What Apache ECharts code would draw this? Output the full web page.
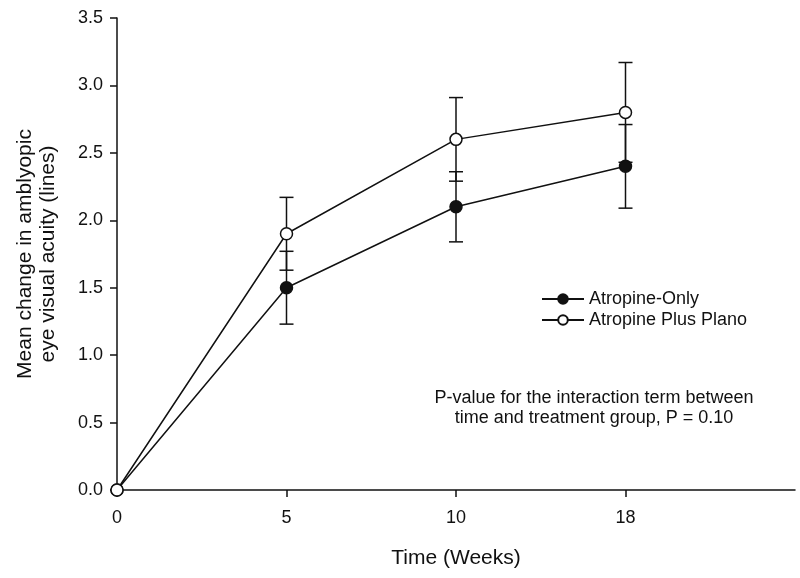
<!DOCTYPE html>
<html>
<head>
<meta charset="utf-8">
<script src="https://cdn.jsdelivr.net/npm/echarts@6/dist/echarts.min.js"></script>
<style>
html,body{margin:0;padding:0;background:#fff;}
#chart{width:800px;height:578px;}
</style>
</head>
<body>
<div id="chart"></div>
<script>
var timeLabels = ['0', '5', '10', '18'];
var atropineOnly = [0, 1.5, 2.1, 2.4];
var atropineOnlyErr = [0, 0.27, 0.26, 0.31];
var plusPlano = [0, 1.9, 2.6, 2.8];
var plusPlanoErr = [0, 0.27, 0.31, 0.37];

var FONT = 'Liberation Sans, Arial, sans-serif';
var INK = '#111';

function pts(vals) { return vals.map(function (v, i) { return [i, v]; }); }
function errData(vals, errs) {
  var out = [];
  vals.forEach(function (v, i) { if (errs[i] > 0) out.push([i, v - errs[i], v + errs[i]]); });
  return out;
}
function errRender(params, api) {
  var x = api.value(0);
  var lo = api.coord([x, api.value(1)]);
  var hi = api.coord([x, api.value(2)]);
  var hw = 7;
  var st = { stroke: INK, lineWidth: 1.5 };
  return {
    type: 'group',
    children: [
      { type: 'line', shape: { x1: lo[0], y1: lo[1], x2: hi[0], y2: hi[1] }, style: st },
      { type: 'line', shape: { x1: lo[0] - hw, y1: lo[1], x2: lo[0] + hw, y2: lo[1] }, style: st },
      { type: 'line', shape: { x1: hi[0] - hw, y1: hi[1], x2: hi[0] + hw, y2: hi[1] }, style: st }
    ]
  };
}

var chart = echarts.init(document.getElementById('chart'), null, { renderer: 'canvas' });
chart.setOption({
  animation: false,
  backgroundColor: '#fff',
  textStyle: { fontFamily: FONT, color: INK },
  grid: { left: 117, right: 5, top: 18, bottom: 88 },
  legend: {
    orient: 'vertical',
    left: 536,
    top: 285,
    itemWidth: 42,
    itemHeight: 12,
    itemGap: 3,
    textStyle: { fontFamily: FONT, fontSize: 18, color: INK },
    data: ['Atropine-Only', 'Atropine Plus Plano']
  },
  xAxis: {
    type: 'value',
    min: 0, max: 4, interval: 1,
    name: 'Time (Weeks)',
    nameLocation: 'middle',
    nameGap: 58,
    nameTextStyle: { fontFamily: FONT, fontSize: 21, color: INK },
    axisLine: { onZero: false, lineStyle: { color: INK, width: 1.5 } },
    axisTick: { length: 7, lineStyle: { color: INK, width: 1.5 }, customValues: [0, 1, 2, 3] },
    axisLabel: {
      margin: 19, fontSize: 18, color: INK, fontFamily: FONT,
      formatter: function (v) { return timeLabels[Math.round(v)] || ''; }
    },
    splitLine: { show: false }
  },
  yAxis: {
    type: 'value',
    min: 0, max: 3.5, interval: 0.5,
    name: 'Mean change in amblyopic\neye visual acuity (lines)',
    nameLocation: 'middle',
    nameGap: 57,
    nameTextStyle: { fontFamily: FONT, fontSize: 21, color: INK, lineHeight: 23, align: 'center' },
    axisLine: { show: true, lineStyle: { color: INK, width: 1.5 } },
    axisTick: { show: true, length: 7, lineStyle: { color: INK, width: 1.5 } },
    axisLabel: {
      margin: 14, fontSize: 18, color: INK, fontFamily: FONT,
      formatter: function (v) { return v.toFixed(1); }
    },
    splitLine: { show: false }
  },
  graphic: [{
    type: 'text',
    x: 594,
    y: 388,
    style: {
      text: 'P-value for the interaction term between\ntime and treatment group, P = 0.10',
      font: '18px ' + FONT,
      fill: INK,
      lineHeight: 20,
      align: 'center',
      verticalAlign: 'top'
    }
  }],
  series: [
    {
      type: 'custom', name: 'errOnly', renderItem: errRender,
      data: errData(atropineOnly, atropineOnlyErr), z: 1, silent: true
    },
    {
      type: 'custom', name: 'errPlano', renderItem: errRender,
      data: errData(plusPlano, plusPlanoErr), z: 1, silent: true
    },
    {
      type: 'line', name: 'Atropine-Only', data: pts(atropineOnly),
      symbol: 'circle', symbolSize: 12, showAllSymbol: true,
      lineStyle: { color: INK, width: 1.5 },
      itemStyle: { color: INK, borderColor: INK, borderWidth: 1.5 },
      z: 3
    },
    {
      type: 'line', name: 'Atropine Plus Plano', data: pts(plusPlano),
      symbol: 'circle', symbolSize: 12, showAllSymbol: true,
      lineStyle: { color: INK, width: 1.5 },
      itemStyle: { color: '#fff', borderColor: INK, borderWidth: 1.5 },
      z: 4
    }
  ]
});
</script>
</body>
</html>
